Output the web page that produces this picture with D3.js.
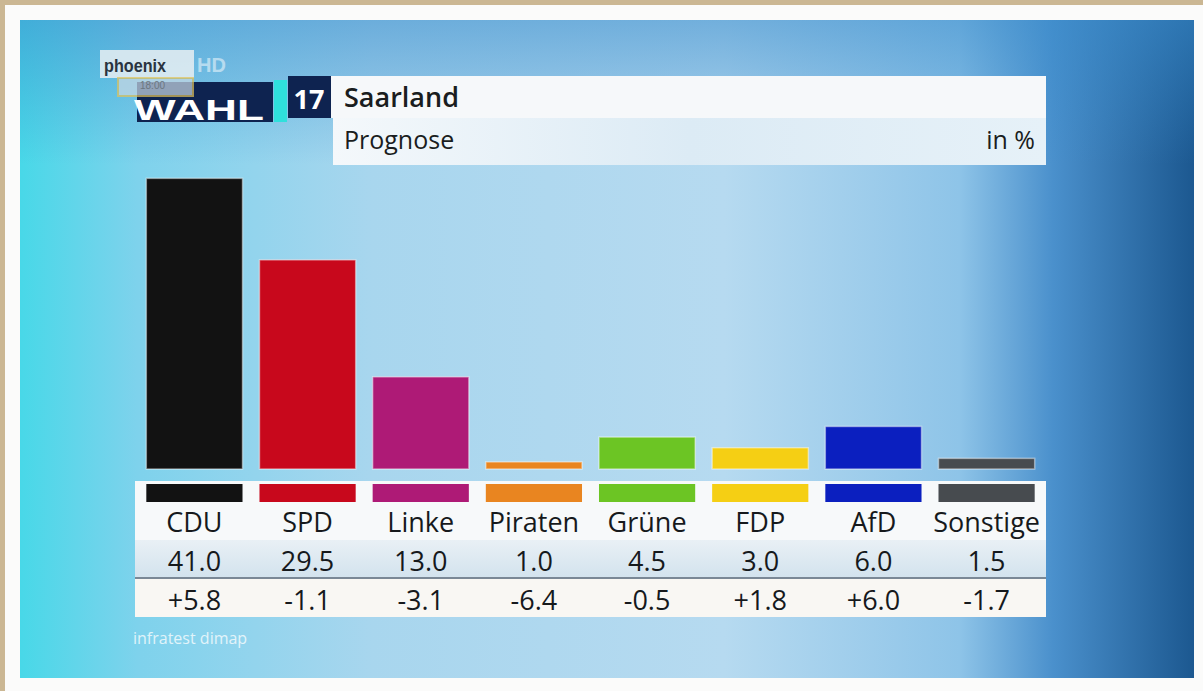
<!DOCTYPE html>
<html>
<head>
<meta charset="utf-8">
<script src="https://cdn.jsdelivr.net/npm/d3@7"></script>
<style>
  body { margin: 0; background: #fbfbfa; overflow: hidden; }
  svg { display: block; }
</style>
</head>
<body>
<div id="chart"></div>
<script>
// election forecast data
const parties = ["CDU", "SPD", "Linke", "Piraten", "Grüne", "FDP", "AfD", "Sonstige"];
const results = [41.0, 29.5, 13.0, 1.0, 4.5, 3.0, 6.0, 1.5];
const changes = ["+5.8", "-1.1", "-3.1", "-6.4", "-0.5", "+1.8", "+6.0", "-1.7"];
const partyColors = ["#121212", "#c8081c", "#ae1a76", "#e98520", "#6cc524", "#f5cf14", "#0b1fbf", "#474b4f"];

const width = 1203, height = 691;
const font = "'Open Sans', 'Noto Sans', sans-serif";

var svg = d3.select("#chart")
    .append("svg")
    .attr("width", width)
    .attr("height", height);

var defs = svg.append("defs");

// horizontal background gradient of the tv panel
var bgGrad = defs.append("linearGradient").attr("id", "bg").attr("x1", 0).attr("x2", 1).attr("y1", 0).attr("y2", 0);
[[0, "#48d8e8"], [0.1, "#7ed2ec"], [0.3, "#a8d6ee"], [0.6, "#b6daf0"], [0.8, "#8ec4e8"],
 [0.88, "#4a90cc"], [1, "#1c5890"]]
    .forEach(s => bgGrad.append("stop").attr("offset", s[0]).attr("stop-color", s[1]));

// darker top edge
var topGrad = defs.append("linearGradient").attr("id", "topshade").attr("x1", 0).attr("x2", 0).attr("y1", 0).attr("y2", 1);
topGrad.append("stop").attr("offset", 0).attr("stop-color", "#3a8ccc").attr("stop-opacity", 0.55);
topGrad.append("stop").attr("offset", 0.22).attr("stop-color", "#3a8ccc").attr("stop-opacity", 0);
topGrad.append("stop").attr("offset", 1).attr("stop-color", "#3a8ccc").attr("stop-opacity", 0);

// prognose row fades to the right
var progGrad = defs.append("linearGradient").attr("id", "prog").attr("x1", 0).attr("x2", 1);
progGrad.append("stop").attr("offset", 0).attr("stop-color", "#f4f8fb");
progGrad.append("stop").attr("offset", 0.5).attr("stop-color", "#dcebf5");
progGrad.append("stop").attr("offset", 1).attr("stop-color", "#e6f1f8");

var valGrad = defs.append("linearGradient").attr("id", "valrow").attr("x1", 0).attr("x2", 0).attr("y1", 0).attr("y2", 1);
valGrad.append("stop").attr("offset", 0).attr("stop-color", "#e9f0f5");
valGrad.append("stop").attr("offset", 1).attr("stop-color", "#d3e3ee");

// frame: beige edge on top and left, white mat, blue panel
svg.append("rect").attr("x", 0).attr("y", 0).attr("width", width).attr("height", height).attr("fill", "#fbfbfa");
svg.append("rect").attr("x", 0).attr("y", 0).attr("width", width).attr("height", 5).attr("fill", "#cbb793");
svg.append("rect").attr("x", 0).attr("y", 0).attr("width", 5).attr("height", height).attr("fill", "#cbb793");
svg.append("rect").attr("x", 20).attr("y", 20).attr("width", 1174).attr("height", 658).attr("fill", "url(#bg)");
svg.append("rect").attr("x", 20).attr("y", 20).attr("width", 1174).attr("height", 658).attr("fill", "url(#topshade)");

// scales
var x = d3.scaleBand()
    .domain(parties)
    .range([135, 1046])
    .paddingInner(0.15)
    .paddingOuter(0.1);

var y = d3.scaleLinear()
    .domain([0, 45])
    .range([469, 150]);

var color = d3.scaleOrdinal().domain(parties).range(partyColors);

// header: logo
svg.append("rect").attr("x", 100).attr("y", 50).attr("width", 94).attr("height", 28).attr("fill", "#e8eef2").attr("opacity", 0.85);
svg.append("text").attr("x", 104).attr("y", 72).text("phoenix")
    .attr("font-family", "'Liberation Sans', sans-serif").attr("font-size", 19).attr("font-weight", "bold")
    .attr("fill", "#2a3440").attr("textLength", 62).attr("lengthAdjust", "spacingAndGlyphs");
svg.append("text").attr("x", 197).attr("y", 72).text("HD")
    .attr("font-family", "'Liberation Sans', sans-serif").attr("font-size", 20).attr("font-weight", "bold")
    .attr("fill", "#ffffff").attr("opacity", 0.5);

svg.append("rect").attr("x", 137).attr("y", 82).attr("width", 136).attr("height", 40).attr("fill", "#0e2350");
svg.append("rect").attr("x", 118).attr("y", 78).attr("width", 75).attr("height", 18)
    .attr("fill", "#c9d9e4").attr("opacity", 0.7).attr("stroke", "#e2c35a").attr("stroke-width", 2);
svg.append("text").attr("x", 140).attr("y", 89).text("18:00")
    .attr("font-family", "'Liberation Sans', sans-serif").attr("font-size", 10)
    .attr("fill", "#6b7680");
svg.append("text").attr("x", 134).attr("y", 120).text("WAHL")
    .attr("font-family", "'Liberation Sans', sans-serif").attr("font-size", 30).attr("font-weight", "bold")
    .attr("fill", "#ffffff").attr("textLength", 130).attr("lengthAdjust", "spacingAndGlyphs");
svg.append("rect").attr("x", 274).attr("y", 80).attr("width", 13).attr("height", 42).attr("fill", "#2fe0dc");
svg.append("rect").attr("x", 288).attr("y", 76).attr("width", 43).attr("height", 42).attr("fill", "#0e2350");
svg.append("text").attr("x", 309).attr("y", 109).text("17").attr("text-anchor", "middle")
    .attr("font-family", font).attr("font-size", 27).attr("font-weight", "bold").attr("fill", "#ffffff");

// title boxes
svg.append("rect").attr("x", 331).attr("y", 76).attr("width", 715).attr("height", 42).attr("fill", "#f6f8fa");
svg.append("rect").attr("x", 333).attr("y", 118).attr("width", 713).attr("height", 47).attr("fill", "url(#prog)");
svg.append("text").attr("x", 344).attr("y", 107).text("Saarland")
    .attr("font-family", font).attr("font-size", 27).attr("font-weight", 600).attr("fill", "#1a1d20");
svg.append("text").attr("x", 344).attr("y", 149).text("Prognose")
    .attr("font-family", font).attr("font-size", 25).attr("fill", "#1a1d20");
svg.append("text").attr("x", 1035).attr("y", 149).text("in %").attr("text-anchor", "end")
    .attr("font-family", font).attr("font-size", 25).attr("fill", "#1a1d20");

// bars
svg.selectAll(".bar")
    .data(parties)
    .enter()
    .append("rect")
    .attr("class", "bar")
    .attr("x", d => x(d))
    .attr("y", (d, i) => y(results[i]))
    .attr("width", x.bandwidth())
    .attr("height", (d, i) => y(0) - y(results[i]))
    .attr("fill", d => color(d))
    .attr("stroke", "#ffffff")
    .attr("stroke-opacity", 0.45)
    .attr("stroke-width", 1.5);

// table background
svg.append("rect").attr("x", 135).attr("y", 481).attr("width", 911).attr("height", 59).attr("fill", "#f7f9fa");
svg.append("rect").attr("x", 135).attr("y", 540).attr("width", 911).attr("height", 37).attr("fill", "url(#valrow)");
svg.append("rect").attr("x", 135).attr("y", 577).attr("width", 911).attr("height", 2).attr("fill", "#7a8896");
svg.append("rect").attr("x", 135).attr("y", 579).attr("width", 911).attr("height", 38).attr("fill", "#f9f7f3");

// colour strips
svg.selectAll(".strip")
    .data(parties)
    .enter()
    .append("rect")
    .attr("class", "strip")
    .attr("x", d => x(d))
    .attr("y", 484)
    .attr("width", x.bandwidth())
    .attr("height", 18)
    .attr("fill", d => color(d));

// table rows
var rows = [
    { vals: parties, y: 532 },
    { vals: results.map(v => v.toFixed(1)), y: 571 },
    { vals: changes, y: 610 }
];
rows.forEach(row => {
    svg.append("g").selectAll("text")
        .data(row.vals)
        .enter()
        .append("text")
        .attr("x", (d, i) => x(parties[i]) + x.bandwidth() / 2)
        .attr("y", row.y)
        .attr("text-anchor", "middle")
        .attr("font-family", font)
        .attr("font-size", 27)
        .attr("fill", "#16191c")
        .text(d => d);
});

// source
svg.append("text").attr("x", 133).attr("y", 644).text("infratest dimap")
    .attr("font-family", font).attr("font-size", 16).attr("fill", "#ffffff").attr("opacity", 0.75);
</script>
</body>
</html>
